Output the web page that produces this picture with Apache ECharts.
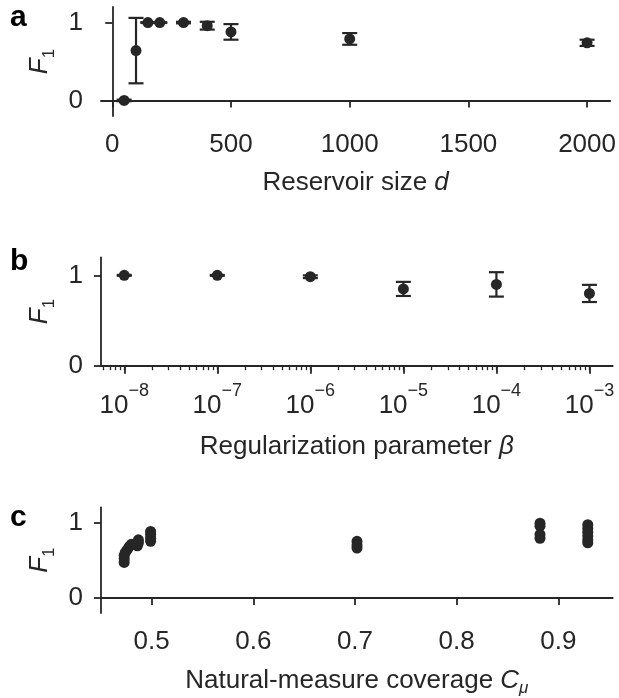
<!DOCTYPE html>
<html><head><meta charset="utf-8">
<script src="https://cdn.jsdelivr.net/npm/echarts@6/dist/echarts.min.js"></script>
<style>html,body{margin:0;padding:0;background:#fff}#c{width:619px;height:698px}</style>
</head><body><div id="c"></div>
<script>
// ---- Panel a: reservoir size ----
const reservoirSizes = [50, 100, 150, 200, 300, 400, 500, 1000, 2000];
const reservoirF1Mean = [0.0, 0.64, 1.0, 1.0, 1.0, 0.96, 0.88, 0.79, 0.74];
const reservoirF1Err = [0.01, 0.42, 0.005, 0.005, 0.01, 0.05, 0.10, 0.075, 0.04];
const reservoirTicks = [0, 500, 1000, 1500, 2000];

// ---- Panel b: regularization parameter ----
const betaValues = [1e-8, 1e-7, 1e-6, 1e-5, 1e-4, 1e-3];
const betaF1Mean = [1.0, 1.0, 0.985, 0.85, 0.90, 0.80];
const betaF1Err = [0.005, 0.005, 0.015, 0.078, 0.135, 0.095];
const betaTickExponents = [-8, -7, -6, -5, -4, -3];

// ---- Panel c: natural-measure coverage ----
const coverageValues = [0.473, 0.473, 0.473, 0.474, 0.476, 0.478, 0.480, 0.486, 0.487, 0.487, 0.499, 0.499, 0.499, 0.499,
  0.702, 0.702, 0.702, 0.882, 0.882, 0.882, 0.882, 0.929, 0.929, 0.929, 0.929, 0.929, 0.929];
const coverageF1 = [0.47, 0.52, 0.56, 0.60, 0.64, 0.68, 0.71, 0.69, 0.73, 0.77, 0.75, 0.79, 0.84, 0.88,
  0.66, 0.70, 0.75, 0.99, 0.95, 0.84, 0.79, 0.97, 0.92, 0.87, 0.82, 0.77, 0.73];
const coverageTicks = [0.5, 0.6, 0.7, 0.8, 0.9];

const f1Ticks = [0, 1];

const INK = '#262626';
const FONT = 'Liberation Sans';
const FS = 26;

function minorLogTicks(lo, hi) {
  const out = [];
  for (let e = lo; e <= hi; e++) {
    for (let k = 1; k <= 9; k++) {
      const v = e + Math.log10(k);
      if (v >= -8.25 && v <= -2.75) out.push(v);
    }
  }
  return out;
}

function baseAxis(extra) {
  return Object.assign({
    type: 'value',
    splitLine: { show: false },
    axisLine: { show: true, lineStyle: { color: INK, width: 1.8 } },
    axisTick: { show: true, length: 7, lineStyle: { color: INK, width: 1.8 } },
    axisLabel: { color: INK, fontSize: FS, fontFamily: FONT, margin: 14 },
    nameTextStyle: { color: INK, fontSize: FS, fontFamily: FONT }
  }, extra);
}

function yAxisFor(gridIndex, min, max) {
  return baseAxis({
    gridIndex, min, max,
    axisTick: { show: true, length: 7, lineStyle: { color: INK, width: 1.8 }, customValues: f1Ticks },
    axisLabel: { color: INK, fontSize: FS, fontFamily: FONT, margin: 18, customValues: f1Ticks },
    name: '{f|F}{s|1}', nameLocation: 'middle', nameRotate: 90, nameGap: 42,
    nameTextStyle: {
      color: INK, fontFamily: FONT,
      rich: {
        f: { fontSize: FS, fontStyle: 'italic', fontFamily: FONT, color: INK, lineHeight: 36 },
        s: { fontSize: 17, fontFamily: FONT, color: INK, lineHeight: 14, verticalAlign: 'bottom' }
      }
    }
  });
}

function errorBarSeries(xAxisIndex, yAxisIndex, data) {
  return {
    type: 'custom', xAxisIndex, yAxisIndex, data, z: 3,
    renderItem(params, api) {
      const x = api.value(0), lo = api.value(1), hi = api.value(2);
      const a = api.coord([x, hi]), b = api.coord([x, lo]);
      const w = 7.5;
      const st = { stroke: INK, lineWidth: 2.2 };
      return {
        type: 'group', children: [
          { type: 'line', shape: { x1: a[0], y1: a[1], x2: b[0], y2: b[1] }, style: st },
          { type: 'line', shape: { x1: a[0] - w, y1: a[1], x2: a[0] + w, y2: a[1] }, style: st },
          { type: 'line', shape: { x1: b[0] - w, y1: b[1], x2: b[0] + w, y2: b[1] }, style: st }
        ]
      };
    }
  };
}

const gridW = 511.7;
const grids = [
  { left: 101, top: 7, width: gridW, height: 109 },
  { left: 101, top: 257.3, width: gridW, height: 108.4 },
  { left: 101, top: 507.3, width: gridW, height: 108.7 }
];

const xAxes = [
  baseAxis({
    gridIndex: 0, min: -47.5, max: 2097.5,
    axisTick: { show: true, length: 7, lineStyle: { color: INK, width: 1.8 }, customValues: reservoirTicks },
    axisLabel: { color: INK, fontSize: FS, fontFamily: FONT, margin: 16, customValues: reservoirTicks,
      formatter: v => String(Math.round(v)) },
    name: 'Reservoir size {i|d}', nameLocation: 'middle', nameGap: 54,
    nameTextStyle: { color: INK, fontSize: FS, fontFamily: FONT,
      rich: { i: { fontStyle: 'italic', fontSize: FS, fontFamily: FONT, color: INK } } }
  }),
  baseAxis({
    gridIndex: 1, min: -8.25, max: -2.75, position: 'bottom',
    axisTick: { show: true, length: 8, lineStyle: { color: INK, width: 1.8 }, customValues: betaTickExponents },
    axisLabel: {
      color: INK, fontSize: FS, fontFamily: FONT, margin: 16, customValues: betaTickExponents,
      formatter: v => '{b|10}{e|\u2212' + Math.abs(Math.round(v)) + '}',
      rich: {
        b: { fontSize: FS, fontFamily: FONT, color: INK, lineHeight: 48 },
        e: { fontSize: 18, fontFamily: FONT, color: INK, lineHeight: 18, verticalAlign: 'top' }
      }
    },
    name: 'Regularization parameter {i|\u03B2}', nameLocation: 'middle', nameGap: 68,
    nameTextStyle: { color: INK, fontSize: FS, fontFamily: FONT,
      rich: { i: { fontStyle: 'italic', fontSize: FS, fontFamily: FONT, color: INK } } }
  }),
  baseAxis({
    gridIndex: 1, min: -8.25, max: -2.75, position: 'bottom',
    axisLine: { show: false },
    axisTick: { show: true, length: 4.5, lineStyle: { color: INK, width: 1.3 }, customValues: minorLogTicks(-9, -3) },
    axisLabel: { show: false }
  }),
  baseAxis({
    gridIndex: 2, min: 0.4502, max: 0.9535,
    axisTick: { show: true, length: 7, lineStyle: { color: INK, width: 1.8 }, customValues: coverageTicks },
    axisLabel: { color: INK, fontSize: FS, fontFamily: FONT, margin: 16, customValues: coverageTicks,
      formatter: v => v.toFixed(1) },
    name: 'Natural-measure coverage {i|C}{s|\u03BC}', nameLocation: 'middle', nameGap: 52,
    nameTextStyle: { color: INK, fontSize: FS, fontFamily: FONT,
      rich: {
        i: { fontStyle: 'italic', fontSize: FS, fontFamily: FONT, color: INK, lineHeight: 32 },
        s: { fontStyle: 'italic', fontSize: 17, fontFamily: FONT, color: INK, lineHeight: 12, verticalAlign: 'bottom' }
      } }
  })
];

const yAxes = [yAxisFor(0, -0.2, 1.2), yAxisFor(1, 0, 1.2), yAxisFor(2, -0.2, 1.2)];

const series = [
  errorBarSeries(0, 0, reservoirSizes.map((d, i) => [d, reservoirF1Mean[i] - reservoirF1Err[i], reservoirF1Mean[i] + reservoirF1Err[i]])),
  { type: 'scatter', xAxisIndex: 0, yAxisIndex: 0, symbolSize: 11, itemStyle: { color: INK, opacity: 1 }, z: 4,
    data: reservoirSizes.map((d, i) => [d, reservoirF1Mean[i]]) },
  errorBarSeries(1, 1, betaValues.map((b, i) => [Math.log10(b), betaF1Mean[i] - betaF1Err[i], betaF1Mean[i] + betaF1Err[i]])),
  { type: 'scatter', xAxisIndex: 1, yAxisIndex: 1, symbolSize: 11, itemStyle: { color: INK, opacity: 1 }, z: 4,
    data: betaValues.map((b, i) => [Math.log10(b), betaF1Mean[i]]) },
  { type: 'scatter', xAxisIndex: 3, yAxisIndex: 2, symbolSize: 11, itemStyle: { color: INK, opacity: 1 }, z: 4,
    data: coverageValues.map((c, i) => [c, coverageF1[i]]) }
];

const panelLabel = (txt, y) => ({
  type: 'text', left: 10, top: y,
  style: { text: txt, fontSize: 30, fontWeight: 'bold', fontFamily: FONT, fill: '#000' }
});

const chart = echarts.init(document.getElementById('c'), null, { renderer: 'canvas' });
chart.setOption({
  animation: false,
  backgroundColor: '#fff',
  grid: grids,
  xAxis: xAxes,
  yAxis: yAxes,
  series,
  graphic: [panelLabel('a', 3), panelLabel('b', 247), panelLabel('c', 503)]
});
</script></body></html>
